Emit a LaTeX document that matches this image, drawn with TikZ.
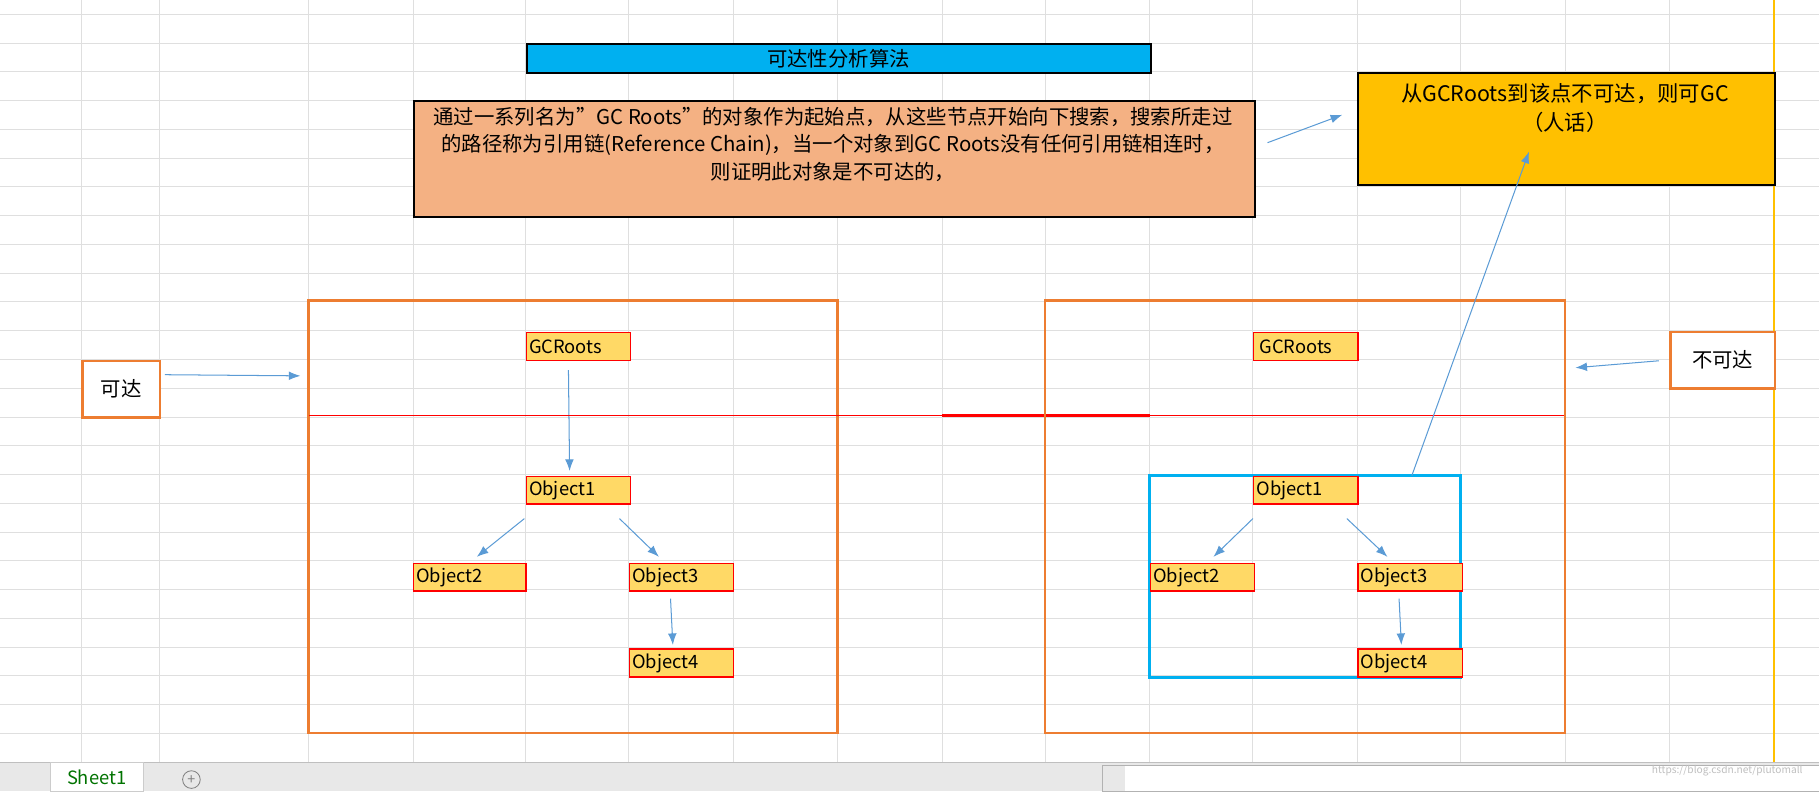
\documentclass[tikz,border=0pt]{standalone}
\usepackage{fontspec}
\setmainfont{Noto Sans CJK SC}
\usetikzlibrary{arrows.meta,calc}
\definecolor{titleblue}{HTML}{00B0F0}
\definecolor{descfill}{HTML}{F4B183}
\definecolor{notefill}{HTML}{FFC000}
\definecolor{objfill}{HTML}{FFD966}
\definecolor{connblue}{HTML}{5B9BD5}
\definecolor{frameorange}{HTML}{ED7D31}
\tikzset{
  obj/.style={draw=red, fill=objfill, line width=0.6pt, minimum width=1.8cm, minimum height=0.48cm, inner sep=1pt, font=\small, anchor=north west, text width=1.7cm, align=left},
  conn/.style={draw=connblue, -{Latex[length=2mm]}, line width=0.5pt},
  frame/.style={draw=frameorange, line width=1.2pt},
}
\begin{document}
\begin{tikzpicture}[x=0.02cm, y=-0.02cm]
    \useasboundingbox (0,0) rectangle (1568,682);
    %grid
    \foreach \gx in {70,137,266,356,453,542,632,722,812,901,991,1080,1170,1259,1349,1439}
        \draw[gray!25] (\gx,0) -- (\gx,657);
    \foreach \gy in {0,...,25}
        \draw[gray!25] (0,12.2+24.8*\gy) -- (1568,12.2+24.8*\gy);
    \draw[notefill, line width=1.2pt] (1529,0) -- (1529,657);

    %title and notes
    \node[draw, line width=1pt, fill=titleblue, minimum width=10.76cm, minimum height=0.5cm, anchor=north west, inner sep=0pt] (title) at (453,37) {可达性分析算法};
    \node[draw, line width=1pt, fill=descfill, minimum width=14.5cm, minimum height=2.0cm, anchor=north west, inner sep=0pt] (desc) at (356,86) {};
    \node[font=\fontsize{10pt}{13.5pt}\selectfont, align=center, inner sep=0pt, anchor=north] (desctext) at (718,92) {通过一系列名为”GC Roots”的对象作为起始点，从这些节点开始向下搜索，搜索所走过\\的路径称为引用链(Reference Chain)，当一个对象到GC Roots没有任何引用链相连时，\\则证明此对象是不可达的，};
    \node[draw, line width=1pt, fill=notefill, minimum width=7.18cm, minimum height=1.94cm, anchor=north west, inner sep=0pt] (note) at (1170,62) {};
    \node[font=\fontsize{10.5pt}{14pt}\selectfont, align=center, anchor=north] (notetext) at (1349,66) {从GCRoots到该点不可达，则可GC\\（人话）};

    %reachable side
    \draw[frame] (266,259) rectangle (722,632);
    \node[frame, draw, minimum width=1.34cm, minimum height=0.98cm, fill=white, anchor=north west] (reach) at (70,310) {可达};
    \coordinate (reachin) at (259,324);
    \draw[conn] ($(reach.north east)+(3,13)$) -- (reachin);
    \node[obj] (gcl) at (453,286) {GCRoots};
    \node[obj] (ol1) at (453,410) {Object1};
    \node[obj, text width=1.85cm, minimum width=1.94cm] (ol2) at (356,485) {Object2};
    \node[obj] (ol3) at (542,485) {Object3};
    \node[obj] (ol4) at (542,559) {Object4};
    \draw[conn] ($(gcl.south west)+(37,8)$) -- ($(ol1.north west)+(38,-4)$);
    \draw[conn] ($(ol1.south west)+(-1,12)$) -- ($(ol2.north west)+(55,-5)$);
    \draw[conn] ($(ol1.south west)+(81,12)$) -- ($(ol3.north west)+(26,-5)$);
    \draw[conn] ($(ol3.south west)+(36,6)$) -- ($(ol4.north west)+(38,-3)$);

    %middle line
    \draw[red, line width=0.7pt] (266,358) -- (1349,358);
    \draw[red, line width=1.4pt] (812,358) -- (991,358);

    %unreachable side
    \draw[frame] (901,259) rectangle (1349,632);
    \node[frame, draw, minimum width=1.8cm, minimum height=0.98cm, fill=white, anchor=north west] (unreach) at (1439,285) {不可达};
    \coordinate (unreachin) at (1358,317);
    \draw[conn] ($(unreach.north west)+(-9,26)$) -- (unreachin);
    \node[obj] (gcr) at (1080,286) {\,GCRoots};
    \draw[draw=titleblue, line width=1.2pt] (991,410) rectangle (1259,584);
    \node[obj] (or1) at (1080,410) {Object1};
    \node[obj] (or2) at (991,485) {Object2};
    \node[obj] (or3) at (1170,485) {Object3};
    \node[obj] (or4) at (1170,559) {Object4};
    \draw[conn] ($(or1.south west)+(0,12)$) -- ($(or2.north west)+(55,-5)$);
    \draw[conn] ($(or1.south west)+(81,12)$) -- ($(or3.north west)+(26,-5)$);
    \draw[conn] ($(or3.south west)+(36,6)$) -- ($(or4.north west)+(38,-3)$);
    \coordinate (unreachout) at (1217,410);
    \draw[conn] (unreachout) -- ($(note.south west)+(148,-30)$);
    \draw[conn] ($(desc.north east)+(10,37)$) -- ($(note.north west)+(-13,37)$);

    %sheet tabs
    \fill[gray!18] (0,657) rectangle (1568,682);
    \draw[gray!50] (0,657) -- (1568,657);
    \node[fill=white, draw=gray!40, minimum width=1.6cm, minimum height=0.5cm, anchor=north west, inner sep=0pt, text=green!45!black, font=\small] (tab) at (43,657) {Sheet1};
    \node[draw=gray, circle, inner sep=1pt, font=\scriptsize, text=gray] (addtab) at (165,672) {+};
    \fill[white] (970,660) rectangle (1568,682);
    \draw[gray!60] (950,660) rectangle (1568,682);
    \node[font=\tiny, text=gray!50, anchor=east] (mark) at (1560,664) {https://blog.csdn.net/plutomall};
\end{tikzpicture}
\end{document}
